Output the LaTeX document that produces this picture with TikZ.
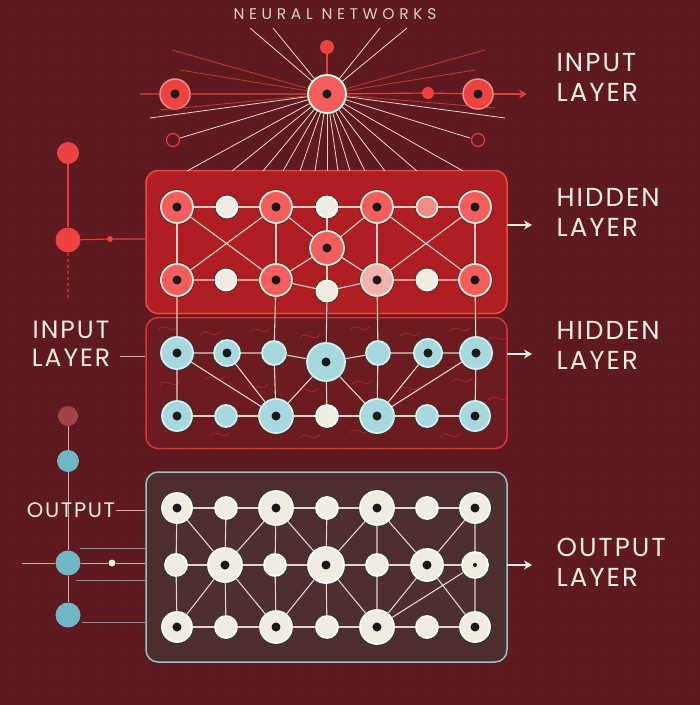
\documentclass[tikz,border=0pt]{standalone}
\usepackage{fontspec}
\setmainfont{Poppins}
\newfontfamily\titlefont[LetterSpace=30]{Poppins}
\newfontfamily\lblfont[LetterSpace=8]{Poppins}
\usetikzlibrary{arrows.meta,positioning}
\definecolor{bgcol}{RGB}{94,26,30}
\definecolor{gridcol}{RGB}{128,58,60}
\definecolor{edgecol}{RGB}{224,212,202}
\definecolor{raycol}{RGB}{242,214,204}
\definecolor{nred}{RGB}{242,94,92}
\definecolor{rimred}{RGB}{250,228,218}
\definecolor{topred}{RGB}{238,66,66}
\definecolor{linered}{RGB}{226,62,60}
\definecolor{dullred}{RGB}{160,66,70}
\definecolor{nblue}{RGB}{166,216,222}
\definecolor{rimblue}{RGB}{214,238,240}
\definecolor{ldotblue}{RGB}{112,182,196}
\definecolor{ncream}{RGB}{240,236,226}
\definecolor{rimcream}{RGB}{252,250,244}
\definecolor{npink}{RGB}{240,140,134}
\definecolor{redfill}{RGB}{176,30,36}
\definecolor{redborder}{RGB}{234,72,66}
\definecolor{midfill}{RGB}{108,28,32}
\definecolor{midborder}{RGB}{216,52,56}
\definecolor{botfill}{RGB}{78,46,46}
\definecolor{botborder}{RGB}{140,200,200}
\definecolor{lblcol}{RGB}{242,236,230}

\begin{document}
\begin{tikzpicture}[x=1pt, y=-1pt,
    lbl/.style={text=lblcol, font=\lblfont\fontsize{26}{30}\selectfont, align=left, anchor=west},
    lblleft/.style={text=lblcol, font=\lblfont\fontsize{25}{28}\selectfont, align=center},
    box/.style={draw, rounded corners=12pt, line width=1.5pt, minimum width=361pt, minimum height=#1, inner sep=0pt},
    dotc/.style={path picture={\fill[black!90] (path picture bounding box.center) circle (4.5pt);}},
    nd/.style={circle, inner sep=0pt, minimum size=#1, preaction={draw=black!80, line width=3.4pt}, line width=1.8pt},
    rn/.style={nd=#1, fill=nred, draw=rimred, dotc},
    rs/.style={nd=#1, fill=ncream, draw=rimcream},
    bn/.style={nd=#1, fill=nblue, draw=rimblue, dotc},
    bs/.style={nd=#1, fill=nblue, draw=rimblue},
    wn/.style={nd=#1, fill=ncream, draw=rimcream, dotc},
    ws/.style={nd=#1, fill=ncream, draw=rimcream},
    ldot/.style={circle, inner sep=0pt, minimum size=#1, fill=topred},
    edge/.style={draw=edgecol, line width=1.1pt},
    ray/.style={draw=raycol, line width=0.8pt},
    redray/.style={draw=linered, line width=0.8pt, opacity=0.8},
    redline/.style={draw=linered, line width=1.2pt},
    greyline/.style={draw=edgecol!80!bgcol, line width=1pt},
    swirl/.style={draw=midborder, line width=0.7pt, opacity=0.55},
    warr/.style={draw=lblcol, line width=2pt, -{Stealth[length=8pt, width=9pt]}},
]
\useasboundingbox (0,0) rectangle (700,705);
\fill[bgcol] (0,0) rectangle (700,705);
\foreach \gx in {12,34,...,700}
  \foreach \gy in {12,34,...,705}
    \fill[gridcol] (\gx,\gy) circle (0.7pt);

\node[text=lblcol!85!bgcol, font=\titlefont\fontsize{15.5}{18}\selectfont] (title) at (335,14) {NEURAL NETWORKS};

% boxes
\node[box=143pt, fill=redfill, draw=redborder] (hidA) at (326.5,242) {};
\node[box=131pt, fill=midfill, draw=midborder] (hidB) at (326.5,383) {};
\node[box=190pt, fill=botfill, draw=botborder] (outB) at (326.5,567) {};
\foreach \sx/\sy in {158/330,200/335,250/332,300/338,350/330,400/336,450/331,160/385,205/380,248/388,298/392,352/384,400/390,452/382,165/432,210/436,300/438,350/433,440/437,488/400,488/340}
  \draw[swirl] (\sx,\sy) .. controls (\sx+6,\sy-9) and (\sx+14,\sy+6) .. (\sx+20,\sy-4);

% top
\node[nd=38pt, fill=nred, draw=rimcream, dotc] (hub) at (327,94) {};
\node[ldot=14pt] (tdot) at (327,47) {};
\node[circle, inner sep=0pt, minimum size=30pt, fill=topred, draw=npink, line width=1.5pt, dotc] (tin) at (175,94) {};
\node[circle, inner sep=0pt, minimum size=30pt, fill=topred, draw=npink, line width=1.5pt, dotc] (tout) at (478,94) {};
\node[ldot=12pt] (tmid) at (428,93) {};
\node[circle, minimum size=13pt, draw=linered, line width=1.2pt] (ringl) at (173,140) {};
\node[circle, minimum size=13pt, draw=linered, line width=1.2pt] (ringr) at (478,140) {};
\coordinate (tstart) at (140,94);
\coordinate (tend) at (527,94);
\draw[redline] (tstart) -- (tin) -- (hub) -- (tmid) -- (tout);
\draw[redline, -{Stealth[length=8pt, width=9pt]}] (tout) -- (tend);
\draw[redline] (tdot) -- (hub);
\foreach \x [count=\i] in {187,232,263,283,300,315,327,338,350,365,385,417,463} {
  \coordinate (dn\i) at (\x,171);
  \draw[ray] (hub) -- (dn\i);
}
\foreach \x/\y [count=\i] in {250/28,273/28,380/28,407/28,150/118,180/138,505/118,470/138} {
  \coordinate (up\i) at (\x,\y);
  \draw[ray] (hub) -- (up\i);
}
\foreach \x/\y [count=\i] in {172/50,180/70,160/110,485/50,475/70,495/108} {
  \coordinate (sd\i) at (\x,\y);
  \draw[redray] (hub) -- (sd\i);
}

% hidden layer A
\node[rn=32pt] (h1a) at (177,207) {};
\node[rs=21pt] (h1b) at (227,207) {};
\node[rn=32pt] (h1c) at (276,207) {};
\node[rs=21pt] (h1d) at (327,207) {};
\node[rn=32pt] (h1e) at (377,207) {};
\node[nd=21pt, fill=npink, draw=rimred] (h1f) at (427,207) {};
\node[rn=32pt] (h1g) at (475,207) {};
\node[rn=34pt] (h1m) at (327,248) {};
\node[rn=32pt] (h2a) at (177,280) {};
\node[rs=21pt] (h2b) at (226,280) {};
\node[rn=32pt] (h2c) at (276,280) {};
\node[rs=21pt] (h2d) at (327,291) {};
\node[nd=32pt, fill=npink!60!ncream, draw=rimred, dotc] (h2e) at (377,280) {};
\node[rs=21pt] (h2f) at (427,280) {};
\node[rn=32pt] (h2g) at (475,280) {};
\draw[edge] (h1a) -- (h1b) -- (h1c) -- (h1d) -- (h1e) -- (h1f) -- (h1g);
\draw[edge] (h2a) -- (h2b) -- (h2c) -- (h2d) -- (h2e) -- (h2f) -- (h2g);
\draw[edge] (h1a) -- (h2a) (h1c) -- (h2c) (h1d) -- (h1m) -- (h2d) (h1e) -- (h2e) (h1g) -- (h2g);
\draw[edge] (h1a) -- (h2c) (h1c) -- (h2a) (h1c) -- (h1m) (h1e) -- (h1m);
\draw[edge] (h1m) -- (h2c) (h1m) -- (h2e) (h1e) -- (h2g) (h1g) -- (h2e);

% hidden layer B
\node[bn=32pt] (m1a) at (177,353) {};
\node[bn=26pt] (m1b) at (227,353) {};
\node[bs=24pt] (m1c) at (274,353) {};
\node[bn=38pt] (m1d) at (326,362) {};
\node[bs=24pt] (m1e) at (378,353) {};
\node[bn=28pt] (m1f) at (428,353) {};
\node[bn=32pt] (m1g) at (476,353) {};
\node[bn=30pt] (m2a) at (177,416) {};
\node[bs=22pt] (m2b) at (226,416) {};
\node[bn=34pt] (m2c) at (276,416) {};
\node[ws=22pt] (m2d) at (327,416) {};
\node[bn=34pt] (m2e) at (377,416) {};
\node[bs=22pt] (m2f) at (427,416) {};
\node[bn=30pt] (m2g) at (475,416) {};
\draw[edge] (m1a) -- (m1b) -- (m1c) -- (m1d) -- (m1e) -- (m1f) -- (m1g);
\draw[edge] (m2a) -- (m2b) -- (m2c) -- (m2d) -- (m2e) -- (m2f) -- (m2g);
\draw[edge] (m1a) -- (m2a) (m1c) -- (m2c) (m1d) -- (m2d) (m1e) -- (m2e) (m1g) -- (m2g);
\draw[edge] (m1a) -- (m2c) (m1b) -- (m2c) (m1d) -- (m2c) (m1d) -- (m2e) (m1f) -- (m2e) (m1g) -- (m2e);
\draw[edge] (h2a) -- (m1a) (h2c) -- (m1c) (h2d) -- (m1d) (h2e) -- (m1e) (h2g) -- (m1g);

% output layer
\node[wn=30pt] (o1a) at (177,508) {};
\node[ws=22pt] (o1b) at (226,508) {};
\node[wn=34pt] (o1c) at (276,508) {};
\node[ws=22pt] (o1d) at (327,508) {};
\node[wn=34pt] (o1e) at (377,508) {};
\node[ws=22pt] (o1f) at (427,508) {};
\node[wn=30pt] (o1g) at (475,508) {};
\node[ws=22pt] (o2a) at (176,565) {};
\node[wn=34pt] (o2b) at (225,565) {};
\node[ws=22pt] (o2c) at (275,565) {};
\node[wn=36pt] (o2d) at (326,565) {};
\node[ws=22pt] (o2e) at (377,565) {};
\node[wn=32pt] (o2f) at (427,565) {};
\node[ws=26pt, path picture={\fill[black!90] (path picture bounding box.center) circle (2pt);}] (o2g) at (475,565) {};
\node[wn=30pt] (o3a) at (177,627) {};
\node[ws=22pt] (o3b) at (226,627) {};
\node[wn=32pt] (o3c) at (276,627) {};
\node[ws=22pt] (o3d) at (327,627) {};
\node[wn=34pt] (o3e) at (377,627) {};
\node[ws=22pt] (o3f) at (427,627) {};
\node[wn=30pt] (o3g) at (475,627) {};
\draw[edge] (o1a) -- (o1b) -- (o1c) -- (o1d) -- (o1e) -- (o1f) -- (o1g);
\draw[edge] (o2a) -- (o2b) -- (o2c) -- (o2d) -- (o2e) -- (o2f) -- (o2g);
\draw[edge] (o3a) -- (o3b) -- (o3c) -- (o3d) -- (o3e) -- (o3f) -- (o3g);
\draw[edge] (o1a) -- (o2a) -- (o3a) (o1b) -- (o2b) -- (o3b) (o1c) -- (o2c) -- (o3c);
\draw[edge] (o1d) -- (o2d) -- (o3d) (o1e) -- (o2e) -- (o3e) (o1g) -- (o2g) -- (o3g);
\draw[edge] (o1a) -- (o2b) (o1c) -- (o2b) (o2b) -- (o3a) (o2b) -- (o3c);
\draw[edge] (o1c) -- (o2d) (o1e) -- (o2d) (o2d) -- (o3c) (o2d) -- (o3e);
\draw[edge] (o1e) -- (o2f) (o1g) -- (o2f) (o2f) -- (o3e) (o2f) -- (o3g) (o2g) -- (o3e);

% left column
\node[ldot=22pt] (la) at (68,153) {};
\node[ldot=25pt] (lb) at (68,240) {};
\node[ldot=6pt] (lbm) at (110,239) {};
\draw[redline] (la) -- (lb);
\draw[redline] (lb) -- (lbm) -- (lbm -| hidA.west);
\coordinate (ldash) at (68,300);
\draw[redline, dashed, opacity=0.6] (lb) -- (ldash);
\node[lblleft] (lin) at (71,344) {INPUT\\LAYER};
\coordinate (linend) at (120,356);
\draw[greyline] (linend) -- (linend -| hidB.west);
\node[ldot=20pt, fill=dullred] (lc) at (68,416) {};
\node[ldot=22pt, fill=ldotblue] (ld) at (68,461) {};
\node[ldot=25pt, fill=ldotblue] (le) at (68,563) {};
\node[ldot=25pt, fill=ldotblue] (lf) at (68,615) {};
\draw[greyline] (lc) -- (ld) -- (le) -- (lf);
\node[text=lblcol, font=\lblfont\fontsize{21}{24}\selectfont, inner sep=1pt] (lout) at (71,510) {OUTPUT};
\draw[greyline] (lout.east) -- (lout.east -| outB.west);
\coordinate (lstart) at (22,563);
\node[ldot=7pt, fill=ncream] (lem) at (112,563) {};
\draw[greyline] (lstart) -- (le) -- (lem) -- (lem -| outB.west);
\coordinate (lw1) at (80,548);
\coordinate (lw2) at (76,580);
\coordinate (lw3) at (82,622);
\draw[greyline, draw=botborder!70!bgcol] (lw1) -- (lw1 -| outB.west) (lw2) -- (lw2 -| outB.west) (lw3) -- (lw3 -| outB.west);

% right labels
\node[lbl] (inlbl) at (553,77) {INPUT\\LAYER};
\node[lbl] (hidlblA) at (553,212) {HIDDEN\\LAYER};
\node[lbl] (hidlblB) at (553,345) {HIDDEN\\LAYER};
\node[lbl] (outlbl) at (553,562) {OUTPUT\\LAYER};
\coordinate (ha) at (507,225);
\coordinate (hb) at (532,225);
\coordinate (ma) at (507,354);
\coordinate (mb) at (532,354);
\coordinate (oa) at (507,565);
\coordinate (ob) at (532,565);
\draw[warr] (ha) -- (hb);
\draw[warr] (ma) -- (mb);
\draw[warr] (oa) -- (ob);
\end{tikzpicture}
\end{document}
